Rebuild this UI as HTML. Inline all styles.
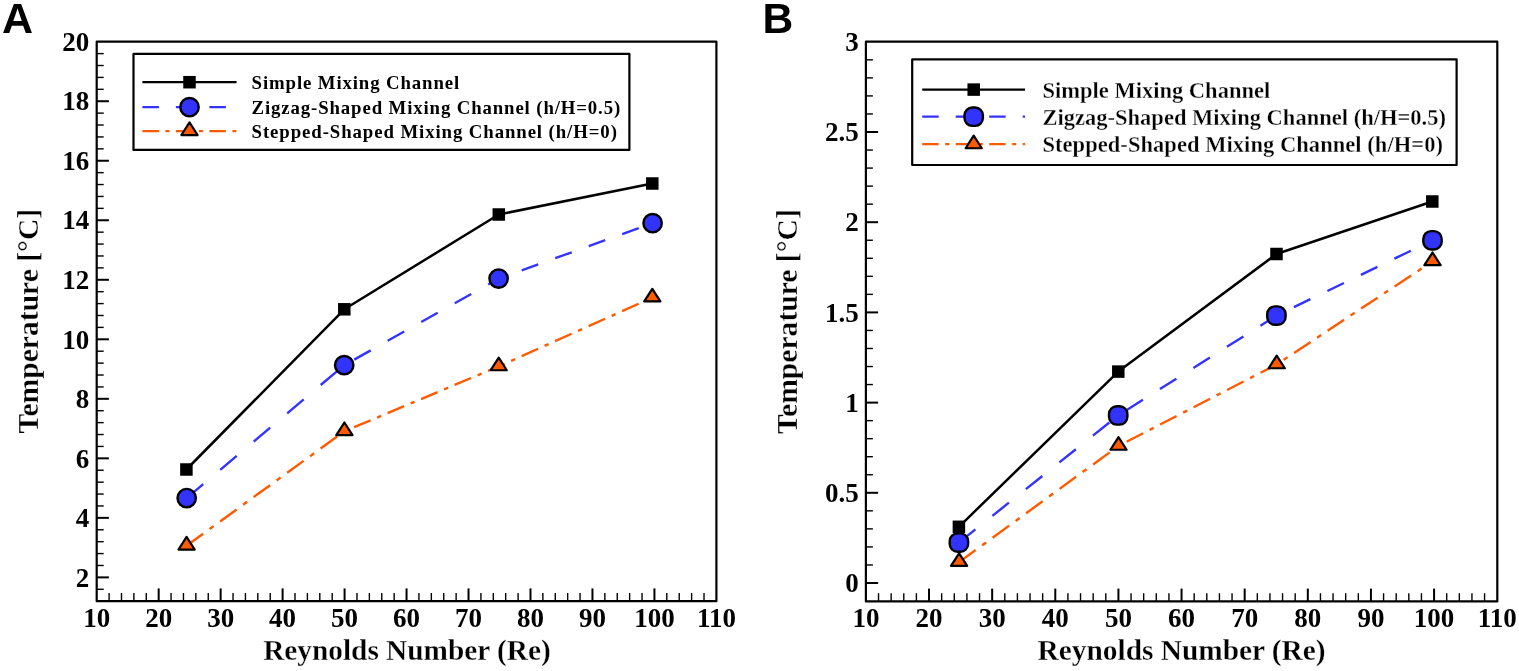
<!DOCTYPE html>
<html><head><meta charset="utf-8"><title>Temperature vs Reynolds Number</title>
<style>html,body{margin:0;padding:0;background:#fff;width:1519px;height:671px;overflow:hidden}svg{display:block}</style>
</head><body>
<svg width="1519" height="671" viewBox="0 0 1519 671">
<rect width="1519" height="671" fill="#fff"/>
<line x1="96.7" y1="589.28" x2="103.7" y2="589.28" stroke="#000" stroke-width="1.4"/>
<line x1="96.7" y1="577.38" x2="108.9" y2="577.38" stroke="#000" stroke-width="2"/>
<line x1="96.7" y1="565.48" x2="103.7" y2="565.48" stroke="#000" stroke-width="1.4"/>
<line x1="96.7" y1="553.57" x2="103.7" y2="553.57" stroke="#000" stroke-width="1.4"/>
<line x1="96.7" y1="541.67" x2="103.7" y2="541.67" stroke="#000" stroke-width="1.4"/>
<line x1="96.7" y1="529.76" x2="103.7" y2="529.76" stroke="#000" stroke-width="1.4"/>
<line x1="96.7" y1="517.86" x2="108.9" y2="517.86" stroke="#000" stroke-width="2"/>
<line x1="96.7" y1="505.96" x2="103.7" y2="505.96" stroke="#000" stroke-width="1.4"/>
<line x1="96.7" y1="494.05" x2="103.7" y2="494.05" stroke="#000" stroke-width="1.4"/>
<line x1="96.7" y1="482.15" x2="103.7" y2="482.15" stroke="#000" stroke-width="1.4"/>
<line x1="96.7" y1="470.24" x2="103.7" y2="470.24" stroke="#000" stroke-width="1.4"/>
<line x1="96.7" y1="458.34" x2="108.9" y2="458.34" stroke="#000" stroke-width="2"/>
<line x1="96.7" y1="446.44" x2="103.7" y2="446.44" stroke="#000" stroke-width="1.4"/>
<line x1="96.7" y1="434.53" x2="103.7" y2="434.53" stroke="#000" stroke-width="1.4"/>
<line x1="96.7" y1="422.63" x2="103.7" y2="422.63" stroke="#000" stroke-width="1.4"/>
<line x1="96.7" y1="410.72" x2="103.7" y2="410.72" stroke="#000" stroke-width="1.4"/>
<line x1="96.7" y1="398.82" x2="108.9" y2="398.82" stroke="#000" stroke-width="2"/>
<line x1="96.7" y1="386.92" x2="103.7" y2="386.92" stroke="#000" stroke-width="1.4"/>
<line x1="96.7" y1="375.01" x2="103.7" y2="375.01" stroke="#000" stroke-width="1.4"/>
<line x1="96.7" y1="363.11" x2="103.7" y2="363.11" stroke="#000" stroke-width="1.4"/>
<line x1="96.7" y1="351.2" x2="103.7" y2="351.2" stroke="#000" stroke-width="1.4"/>
<line x1="96.7" y1="339.3" x2="108.9" y2="339.3" stroke="#000" stroke-width="2"/>
<line x1="96.7" y1="327.4" x2="103.7" y2="327.4" stroke="#000" stroke-width="1.4"/>
<line x1="96.7" y1="315.49" x2="103.7" y2="315.49" stroke="#000" stroke-width="1.4"/>
<line x1="96.7" y1="303.59" x2="103.7" y2="303.59" stroke="#000" stroke-width="1.4"/>
<line x1="96.7" y1="291.68" x2="103.7" y2="291.68" stroke="#000" stroke-width="1.4"/>
<line x1="96.7" y1="279.78" x2="108.9" y2="279.78" stroke="#000" stroke-width="2"/>
<line x1="96.7" y1="267.88" x2="103.7" y2="267.88" stroke="#000" stroke-width="1.4"/>
<line x1="96.7" y1="255.97" x2="103.7" y2="255.97" stroke="#000" stroke-width="1.4"/>
<line x1="96.7" y1="244.07" x2="103.7" y2="244.07" stroke="#000" stroke-width="1.4"/>
<line x1="96.7" y1="232.16" x2="103.7" y2="232.16" stroke="#000" stroke-width="1.4"/>
<line x1="96.7" y1="220.26" x2="108.9" y2="220.26" stroke="#000" stroke-width="2"/>
<line x1="96.7" y1="208.36" x2="103.7" y2="208.36" stroke="#000" stroke-width="1.4"/>
<line x1="96.7" y1="196.45" x2="103.7" y2="196.45" stroke="#000" stroke-width="1.4"/>
<line x1="96.7" y1="184.55" x2="103.7" y2="184.55" stroke="#000" stroke-width="1.4"/>
<line x1="96.7" y1="172.64" x2="103.7" y2="172.64" stroke="#000" stroke-width="1.4"/>
<line x1="96.7" y1="160.74" x2="108.9" y2="160.74" stroke="#000" stroke-width="2"/>
<line x1="96.7" y1="148.84" x2="103.7" y2="148.84" stroke="#000" stroke-width="1.4"/>
<line x1="96.7" y1="136.93" x2="103.7" y2="136.93" stroke="#000" stroke-width="1.4"/>
<line x1="96.7" y1="125.03" x2="103.7" y2="125.03" stroke="#000" stroke-width="1.4"/>
<line x1="96.7" y1="113.12" x2="103.7" y2="113.12" stroke="#000" stroke-width="1.4"/>
<line x1="96.7" y1="101.22" x2="108.9" y2="101.22" stroke="#000" stroke-width="2"/>
<line x1="96.7" y1="89.32" x2="103.7" y2="89.32" stroke="#000" stroke-width="1.4"/>
<line x1="96.7" y1="77.41" x2="103.7" y2="77.41" stroke="#000" stroke-width="1.4"/>
<line x1="96.7" y1="65.51" x2="103.7" y2="65.51" stroke="#000" stroke-width="1.4"/>
<line x1="96.7" y1="53.6" x2="103.7" y2="53.6" stroke="#000" stroke-width="1.4"/>
<line x1="109.09" y1="601.2" x2="109.09" y2="593" stroke="#000" stroke-width="1.4"/>
<line x1="121.49" y1="601.2" x2="121.49" y2="593" stroke="#000" stroke-width="1.4"/>
<line x1="133.88" y1="601.2" x2="133.88" y2="593" stroke="#000" stroke-width="1.4"/>
<line x1="146.28" y1="601.2" x2="146.28" y2="593" stroke="#000" stroke-width="1.4"/>
<line x1="158.67" y1="601.2" x2="158.67" y2="588.4" stroke="#000" stroke-width="2"/>
<line x1="171.06" y1="601.2" x2="171.06" y2="593" stroke="#000" stroke-width="1.4"/>
<line x1="183.46" y1="601.2" x2="183.46" y2="593" stroke="#000" stroke-width="1.4"/>
<line x1="195.85" y1="601.2" x2="195.85" y2="593" stroke="#000" stroke-width="1.4"/>
<line x1="208.25" y1="601.2" x2="208.25" y2="593" stroke="#000" stroke-width="1.4"/>
<line x1="220.64" y1="601.2" x2="220.64" y2="588.4" stroke="#000" stroke-width="2"/>
<line x1="233.03" y1="601.2" x2="233.03" y2="593" stroke="#000" stroke-width="1.4"/>
<line x1="245.43" y1="601.2" x2="245.43" y2="593" stroke="#000" stroke-width="1.4"/>
<line x1="257.82" y1="601.2" x2="257.82" y2="593" stroke="#000" stroke-width="1.4"/>
<line x1="270.22" y1="601.2" x2="270.22" y2="593" stroke="#000" stroke-width="1.4"/>
<line x1="282.61" y1="601.2" x2="282.61" y2="588.4" stroke="#000" stroke-width="2"/>
<line x1="295" y1="601.2" x2="295" y2="593" stroke="#000" stroke-width="1.4"/>
<line x1="307.4" y1="601.2" x2="307.4" y2="593" stroke="#000" stroke-width="1.4"/>
<line x1="319.79" y1="601.2" x2="319.79" y2="593" stroke="#000" stroke-width="1.4"/>
<line x1="332.19" y1="601.2" x2="332.19" y2="593" stroke="#000" stroke-width="1.4"/>
<line x1="344.58" y1="601.2" x2="344.58" y2="588.4" stroke="#000" stroke-width="2"/>
<line x1="356.97" y1="601.2" x2="356.97" y2="593" stroke="#000" stroke-width="1.4"/>
<line x1="369.37" y1="601.2" x2="369.37" y2="593" stroke="#000" stroke-width="1.4"/>
<line x1="381.76" y1="601.2" x2="381.76" y2="593" stroke="#000" stroke-width="1.4"/>
<line x1="394.16" y1="601.2" x2="394.16" y2="593" stroke="#000" stroke-width="1.4"/>
<line x1="406.55" y1="601.2" x2="406.55" y2="588.4" stroke="#000" stroke-width="2"/>
<line x1="418.94" y1="601.2" x2="418.94" y2="593" stroke="#000" stroke-width="1.4"/>
<line x1="431.34" y1="601.2" x2="431.34" y2="593" stroke="#000" stroke-width="1.4"/>
<line x1="443.73" y1="601.2" x2="443.73" y2="593" stroke="#000" stroke-width="1.4"/>
<line x1="456.13" y1="601.2" x2="456.13" y2="593" stroke="#000" stroke-width="1.4"/>
<line x1="468.52" y1="601.2" x2="468.52" y2="588.4" stroke="#000" stroke-width="2"/>
<line x1="480.91" y1="601.2" x2="480.91" y2="593" stroke="#000" stroke-width="1.4"/>
<line x1="493.31" y1="601.2" x2="493.31" y2="593" stroke="#000" stroke-width="1.4"/>
<line x1="505.7" y1="601.2" x2="505.7" y2="593" stroke="#000" stroke-width="1.4"/>
<line x1="518.1" y1="601.2" x2="518.1" y2="593" stroke="#000" stroke-width="1.4"/>
<line x1="530.49" y1="601.2" x2="530.49" y2="588.4" stroke="#000" stroke-width="2"/>
<line x1="542.88" y1="601.2" x2="542.88" y2="593" stroke="#000" stroke-width="1.4"/>
<line x1="555.28" y1="601.2" x2="555.28" y2="593" stroke="#000" stroke-width="1.4"/>
<line x1="567.67" y1="601.2" x2="567.67" y2="593" stroke="#000" stroke-width="1.4"/>
<line x1="580.07" y1="601.2" x2="580.07" y2="593" stroke="#000" stroke-width="1.4"/>
<line x1="592.46" y1="601.2" x2="592.46" y2="588.4" stroke="#000" stroke-width="2"/>
<line x1="604.85" y1="601.2" x2="604.85" y2="593" stroke="#000" stroke-width="1.4"/>
<line x1="617.25" y1="601.2" x2="617.25" y2="593" stroke="#000" stroke-width="1.4"/>
<line x1="629.64" y1="601.2" x2="629.64" y2="593" stroke="#000" stroke-width="1.4"/>
<line x1="642.04" y1="601.2" x2="642.04" y2="593" stroke="#000" stroke-width="1.4"/>
<line x1="654.43" y1="601.2" x2="654.43" y2="588.4" stroke="#000" stroke-width="2"/>
<line x1="666.82" y1="601.2" x2="666.82" y2="593" stroke="#000" stroke-width="1.4"/>
<line x1="679.22" y1="601.2" x2="679.22" y2="593" stroke="#000" stroke-width="1.4"/>
<line x1="691.61" y1="601.2" x2="691.61" y2="593" stroke="#000" stroke-width="1.4"/>
<line x1="704.01" y1="601.2" x2="704.01" y2="593" stroke="#000" stroke-width="1.4"/>
<rect x="96.7" y="41.7" width="619.7" height="559.5" fill="none" stroke="#000" stroke-width="2.2" stroke-linejoin="round"/>
<text x="89.2" y="586.58" text-anchor="end" font-family="'Liberation Serif', 'Times New Roman', serif" font-weight="bold" font-size="27">2</text>
<text x="89.2" y="527.06" text-anchor="end" font-family="'Liberation Serif', 'Times New Roman', serif" font-weight="bold" font-size="27">4</text>
<text x="89.2" y="467.54" text-anchor="end" font-family="'Liberation Serif', 'Times New Roman', serif" font-weight="bold" font-size="27">6</text>
<text x="89.2" y="408.02" text-anchor="end" font-family="'Liberation Serif', 'Times New Roman', serif" font-weight="bold" font-size="27">8</text>
<text x="89.2" y="348.5" text-anchor="end" font-family="'Liberation Serif', 'Times New Roman', serif" font-weight="bold" font-size="27">10</text>
<text x="89.2" y="288.98" text-anchor="end" font-family="'Liberation Serif', 'Times New Roman', serif" font-weight="bold" font-size="27">12</text>
<text x="89.2" y="229.46" text-anchor="end" font-family="'Liberation Serif', 'Times New Roman', serif" font-weight="bold" font-size="27">14</text>
<text x="89.2" y="169.94" text-anchor="end" font-family="'Liberation Serif', 'Times New Roman', serif" font-weight="bold" font-size="27">16</text>
<text x="89.2" y="110.42" text-anchor="end" font-family="'Liberation Serif', 'Times New Roman', serif" font-weight="bold" font-size="27">18</text>
<text x="89.2" y="50.9" text-anchor="end" font-family="'Liberation Serif', 'Times New Roman', serif" font-weight="bold" font-size="27">20</text>
<text x="96.7" y="626.6" text-anchor="middle" font-family="'Liberation Serif', 'Times New Roman', serif" font-weight="bold" font-size="27">10</text>
<text x="158.67" y="626.6" text-anchor="middle" font-family="'Liberation Serif', 'Times New Roman', serif" font-weight="bold" font-size="27">20</text>
<text x="220.64" y="626.6" text-anchor="middle" font-family="'Liberation Serif', 'Times New Roman', serif" font-weight="bold" font-size="27">30</text>
<text x="282.61" y="626.6" text-anchor="middle" font-family="'Liberation Serif', 'Times New Roman', serif" font-weight="bold" font-size="27">40</text>
<text x="344.58" y="626.6" text-anchor="middle" font-family="'Liberation Serif', 'Times New Roman', serif" font-weight="bold" font-size="27">50</text>
<text x="406.55" y="626.6" text-anchor="middle" font-family="'Liberation Serif', 'Times New Roman', serif" font-weight="bold" font-size="27">60</text>
<text x="468.52" y="626.6" text-anchor="middle" font-family="'Liberation Serif', 'Times New Roman', serif" font-weight="bold" font-size="27">70</text>
<text x="530.49" y="626.6" text-anchor="middle" font-family="'Liberation Serif', 'Times New Roman', serif" font-weight="bold" font-size="27">80</text>
<text x="592.46" y="626.6" text-anchor="middle" font-family="'Liberation Serif', 'Times New Roman', serif" font-weight="bold" font-size="27">90</text>
<text x="654.43" y="626.6" text-anchor="middle" font-family="'Liberation Serif', 'Times New Roman', serif" font-weight="bold" font-size="27">100</text>
<text x="716.4" y="626.6" text-anchor="middle" font-family="'Liberation Serif', 'Times New Roman', serif" font-weight="bold" font-size="27">110</text>
<text x="263.2" y="660.2" font-family="'Liberation Serif', 'Times New Roman', serif" font-weight="bold" font-size="29.5" textLength="287.6" lengthAdjust="spacingAndGlyphs" stroke="#fff" stroke-width="0.3">Reynolds Number (Re)</text>
<text transform="translate(37.6,433.6) rotate(-90)" x="0" y="0" font-family="'Liberation Serif', 'Times New Roman', serif" font-weight="bold" font-size="30" textLength="224.8" lengthAdjust="spacingAndGlyphs" stroke="#fff" stroke-width="0.3">Temperature [°C]</text>
<text x="1.9" y="32.8" font-family="'Liberation Sans', Arial, sans-serif" font-weight="bold" font-size="43">A</text>
<polyline points="186.4,469.5 344.3,309.3 498.8,214.5 652.3,183.5" fill="none" stroke="#000" stroke-width="2.5" stroke-linejoin="round"/>
<line x1="186.7" y1="498.1" x2="344.2" y2="365.2" stroke="#3333ff" stroke-width="2.4" stroke-dasharray="21.59 22.24" stroke-dashoffset="0"/>
<line x1="344.2" y1="365.2" x2="498.6" y2="278.6" stroke="#3333ff" stroke-width="2.4" stroke-dasharray="18.92 19.49" stroke-dashoffset="26.94"/>
<line x1="498.6" y1="278.6" x2="652.6" y2="223.2" stroke="#3333ff" stroke-width="2.4" stroke-dasharray="17.54 18.07" stroke-dashoffset="11.05"/>
<line x1="186.6" y1="545.7" x2="344.4" y2="431.3" stroke="#ff5a00" stroke-width="2.4" stroke-dasharray="20.38 8.03 4.94 8.03" stroke-dashoffset="0"/>
<line x1="344.4" y1="431.3" x2="498.7" y2="366.4" stroke="#ff5a00" stroke-width="2.4" stroke-dasharray="17.9 7.05 4.34 7.05" stroke-dashoffset="25.82"/>
<line x1="498.7" y1="366.4" x2="652.3" y2="297.6" stroke="#ff5a00" stroke-width="2.4" stroke-dasharray="18.08 7.12 4.38 7.12" stroke-dashoffset="11.61"/>
<rect x="180.15" y="463.25" width="12.5" height="12.5" fill="#000"/>
<rect x="338.05" y="303.05" width="12.5" height="12.5" fill="#000"/>
<rect x="492.55" y="208.25" width="12.5" height="12.5" fill="#000"/>
<rect x="646.05" y="177.25" width="12.5" height="12.5" fill="#000"/>
<circle cx="186.7" cy="498.1" r="9.2" fill="#3333ff" stroke="#000" stroke-width="2.4"/>
<circle cx="344.2" cy="365.2" r="9.2" fill="#3333ff" stroke="#000" stroke-width="2.4"/>
<circle cx="498.6" cy="278.6" r="9.2" fill="#3333ff" stroke="#000" stroke-width="2.4"/>
<circle cx="652.6" cy="223.2" r="9.2" fill="#3333ff" stroke="#000" stroke-width="2.4"/>
<polygon points="186.6,536.93 194.7,549.53 178.5,549.53" fill="#ff5a00" stroke="#000" stroke-width="2.2" stroke-linejoin="round"/>
<polygon points="344.4,422.53 352.5,435.13 336.3,435.13" fill="#ff5a00" stroke="#000" stroke-width="2.2" stroke-linejoin="round"/>
<polygon points="498.7,357.63 506.8,370.23 490.6,370.23" fill="#ff5a00" stroke="#000" stroke-width="2.2" stroke-linejoin="round"/>
<polygon points="652.3,288.83 660.4,301.43 644.2,301.43" fill="#ff5a00" stroke="#000" stroke-width="2.2" stroke-linejoin="round"/>
<rect x="133.5" y="53.9" width="495.9" height="96" fill="#fff" stroke="#000" stroke-width="2.2" stroke-linejoin="round"/>
<line x1="142.4" y1="82.2" x2="236.6" y2="82.2" stroke="#000" stroke-width="2.2"/>
<rect x="183.25" y="75.95" width="12.5" height="12.5" fill="#000"/>
<line x1="142.4" y1="107.2" x2="236.6" y2="107.2" stroke="#3333ff" stroke-width="2.2" stroke-dasharray="16.5 17.0"/>
<circle cx="189.5" cy="107.2" r="9.2" fill="#3333ff" stroke="#000" stroke-width="2.4"/>
<line x1="142.4" y1="131.2" x2="236.6" y2="131.2" stroke="#ff5a00" stroke-width="2.2" stroke-dasharray="16.5 6.5 4.0 6.5"/>
<polygon points="189.5,122.43 197.6,135.03 181.4,135.03" fill="#ff5a00" stroke="#000" stroke-width="2.2" stroke-linejoin="round"/>
<text x="251.6" y="88.6" font-family="'Liberation Serif', 'Times New Roman', serif" font-weight="bold" font-size="18.8" textLength="207.6" lengthAdjust="spacing">Simple Mixing Channel</text>
<text x="251.6" y="113.6" font-family="'Liberation Serif', 'Times New Roman', serif" font-weight="bold" font-size="18.8" textLength="368.6" lengthAdjust="spacing">Zigzag-Shaped Mixing Channel (h/H=0.5)</text>
<text x="251.6" y="138.3" font-family="'Liberation Serif', 'Times New Roman', serif" font-weight="bold" font-size="18.8" textLength="365.3" lengthAdjust="spacing">Stepped-Shaped Mixing Channel (h/H=0)</text>
<line x1="865.9" y1="583" x2="878.1" y2="583" stroke="#000" stroke-width="2"/>
<line x1="865.9" y1="564.96" x2="872.9" y2="564.96" stroke="#000" stroke-width="1.4"/>
<line x1="865.9" y1="546.92" x2="872.9" y2="546.92" stroke="#000" stroke-width="1.4"/>
<line x1="865.9" y1="528.88" x2="872.9" y2="528.88" stroke="#000" stroke-width="1.4"/>
<line x1="865.9" y1="510.84" x2="872.9" y2="510.84" stroke="#000" stroke-width="1.4"/>
<line x1="865.9" y1="492.8" x2="878.1" y2="492.8" stroke="#000" stroke-width="2"/>
<line x1="865.9" y1="474.76" x2="872.9" y2="474.76" stroke="#000" stroke-width="1.4"/>
<line x1="865.9" y1="456.72" x2="872.9" y2="456.72" stroke="#000" stroke-width="1.4"/>
<line x1="865.9" y1="438.68" x2="872.9" y2="438.68" stroke="#000" stroke-width="1.4"/>
<line x1="865.9" y1="420.64" x2="872.9" y2="420.64" stroke="#000" stroke-width="1.4"/>
<line x1="865.9" y1="402.6" x2="878.1" y2="402.6" stroke="#000" stroke-width="2"/>
<line x1="865.9" y1="384.56" x2="872.9" y2="384.56" stroke="#000" stroke-width="1.4"/>
<line x1="865.9" y1="366.52" x2="872.9" y2="366.52" stroke="#000" stroke-width="1.4"/>
<line x1="865.9" y1="348.48" x2="872.9" y2="348.48" stroke="#000" stroke-width="1.4"/>
<line x1="865.9" y1="330.44" x2="872.9" y2="330.44" stroke="#000" stroke-width="1.4"/>
<line x1="865.9" y1="312.4" x2="878.1" y2="312.4" stroke="#000" stroke-width="2"/>
<line x1="865.9" y1="294.36" x2="872.9" y2="294.36" stroke="#000" stroke-width="1.4"/>
<line x1="865.9" y1="276.32" x2="872.9" y2="276.32" stroke="#000" stroke-width="1.4"/>
<line x1="865.9" y1="258.28" x2="872.9" y2="258.28" stroke="#000" stroke-width="1.4"/>
<line x1="865.9" y1="240.24" x2="872.9" y2="240.24" stroke="#000" stroke-width="1.4"/>
<line x1="865.9" y1="222.2" x2="878.1" y2="222.2" stroke="#000" stroke-width="2"/>
<line x1="865.9" y1="204.16" x2="872.9" y2="204.16" stroke="#000" stroke-width="1.4"/>
<line x1="865.9" y1="186.12" x2="872.9" y2="186.12" stroke="#000" stroke-width="1.4"/>
<line x1="865.9" y1="168.08" x2="872.9" y2="168.08" stroke="#000" stroke-width="1.4"/>
<line x1="865.9" y1="150.04" x2="872.9" y2="150.04" stroke="#000" stroke-width="1.4"/>
<line x1="865.9" y1="132" x2="878.1" y2="132" stroke="#000" stroke-width="2"/>
<line x1="865.9" y1="113.96" x2="872.9" y2="113.96" stroke="#000" stroke-width="1.4"/>
<line x1="865.9" y1="95.92" x2="872.9" y2="95.92" stroke="#000" stroke-width="1.4"/>
<line x1="865.9" y1="77.88" x2="872.9" y2="77.88" stroke="#000" stroke-width="1.4"/>
<line x1="865.9" y1="59.84" x2="872.9" y2="59.84" stroke="#000" stroke-width="1.4"/>
<line x1="878.53" y1="601.4" x2="878.53" y2="593.2" stroke="#000" stroke-width="1.4"/>
<line x1="891.15" y1="601.4" x2="891.15" y2="593.2" stroke="#000" stroke-width="1.4"/>
<line x1="903.78" y1="601.4" x2="903.78" y2="593.2" stroke="#000" stroke-width="1.4"/>
<line x1="916.4" y1="601.4" x2="916.4" y2="593.2" stroke="#000" stroke-width="1.4"/>
<line x1="929.03" y1="601.4" x2="929.03" y2="588.6" stroke="#000" stroke-width="2"/>
<line x1="941.66" y1="601.4" x2="941.66" y2="593.2" stroke="#000" stroke-width="1.4"/>
<line x1="954.28" y1="601.4" x2="954.28" y2="593.2" stroke="#000" stroke-width="1.4"/>
<line x1="966.91" y1="601.4" x2="966.91" y2="593.2" stroke="#000" stroke-width="1.4"/>
<line x1="979.53" y1="601.4" x2="979.53" y2="593.2" stroke="#000" stroke-width="1.4"/>
<line x1="992.16" y1="601.4" x2="992.16" y2="588.6" stroke="#000" stroke-width="2"/>
<line x1="1004.79" y1="601.4" x2="1004.79" y2="593.2" stroke="#000" stroke-width="1.4"/>
<line x1="1017.41" y1="601.4" x2="1017.41" y2="593.2" stroke="#000" stroke-width="1.4"/>
<line x1="1030.04" y1="601.4" x2="1030.04" y2="593.2" stroke="#000" stroke-width="1.4"/>
<line x1="1042.66" y1="601.4" x2="1042.66" y2="593.2" stroke="#000" stroke-width="1.4"/>
<line x1="1055.29" y1="601.4" x2="1055.29" y2="588.6" stroke="#000" stroke-width="2"/>
<line x1="1067.92" y1="601.4" x2="1067.92" y2="593.2" stroke="#000" stroke-width="1.4"/>
<line x1="1080.54" y1="601.4" x2="1080.54" y2="593.2" stroke="#000" stroke-width="1.4"/>
<line x1="1093.17" y1="601.4" x2="1093.17" y2="593.2" stroke="#000" stroke-width="1.4"/>
<line x1="1105.79" y1="601.4" x2="1105.79" y2="593.2" stroke="#000" stroke-width="1.4"/>
<line x1="1118.42" y1="601.4" x2="1118.42" y2="588.6" stroke="#000" stroke-width="2"/>
<line x1="1131.05" y1="601.4" x2="1131.05" y2="593.2" stroke="#000" stroke-width="1.4"/>
<line x1="1143.67" y1="601.4" x2="1143.67" y2="593.2" stroke="#000" stroke-width="1.4"/>
<line x1="1156.3" y1="601.4" x2="1156.3" y2="593.2" stroke="#000" stroke-width="1.4"/>
<line x1="1168.92" y1="601.4" x2="1168.92" y2="593.2" stroke="#000" stroke-width="1.4"/>
<line x1="1181.55" y1="601.4" x2="1181.55" y2="588.6" stroke="#000" stroke-width="2"/>
<line x1="1194.18" y1="601.4" x2="1194.18" y2="593.2" stroke="#000" stroke-width="1.4"/>
<line x1="1206.8" y1="601.4" x2="1206.8" y2="593.2" stroke="#000" stroke-width="1.4"/>
<line x1="1219.43" y1="601.4" x2="1219.43" y2="593.2" stroke="#000" stroke-width="1.4"/>
<line x1="1232.05" y1="601.4" x2="1232.05" y2="593.2" stroke="#000" stroke-width="1.4"/>
<line x1="1244.68" y1="601.4" x2="1244.68" y2="588.6" stroke="#000" stroke-width="2"/>
<line x1="1257.31" y1="601.4" x2="1257.31" y2="593.2" stroke="#000" stroke-width="1.4"/>
<line x1="1269.93" y1="601.4" x2="1269.93" y2="593.2" stroke="#000" stroke-width="1.4"/>
<line x1="1282.56" y1="601.4" x2="1282.56" y2="593.2" stroke="#000" stroke-width="1.4"/>
<line x1="1295.18" y1="601.4" x2="1295.18" y2="593.2" stroke="#000" stroke-width="1.4"/>
<line x1="1307.81" y1="601.4" x2="1307.81" y2="588.6" stroke="#000" stroke-width="2"/>
<line x1="1320.44" y1="601.4" x2="1320.44" y2="593.2" stroke="#000" stroke-width="1.4"/>
<line x1="1333.06" y1="601.4" x2="1333.06" y2="593.2" stroke="#000" stroke-width="1.4"/>
<line x1="1345.69" y1="601.4" x2="1345.69" y2="593.2" stroke="#000" stroke-width="1.4"/>
<line x1="1358.31" y1="601.4" x2="1358.31" y2="593.2" stroke="#000" stroke-width="1.4"/>
<line x1="1370.94" y1="601.4" x2="1370.94" y2="588.6" stroke="#000" stroke-width="2"/>
<line x1="1383.57" y1="601.4" x2="1383.57" y2="593.2" stroke="#000" stroke-width="1.4"/>
<line x1="1396.19" y1="601.4" x2="1396.19" y2="593.2" stroke="#000" stroke-width="1.4"/>
<line x1="1408.82" y1="601.4" x2="1408.82" y2="593.2" stroke="#000" stroke-width="1.4"/>
<line x1="1421.44" y1="601.4" x2="1421.44" y2="593.2" stroke="#000" stroke-width="1.4"/>
<line x1="1434.07" y1="601.4" x2="1434.07" y2="588.6" stroke="#000" stroke-width="2"/>
<line x1="1446.7" y1="601.4" x2="1446.7" y2="593.2" stroke="#000" stroke-width="1.4"/>
<line x1="1459.32" y1="601.4" x2="1459.32" y2="593.2" stroke="#000" stroke-width="1.4"/>
<line x1="1471.95" y1="601.4" x2="1471.95" y2="593.2" stroke="#000" stroke-width="1.4"/>
<line x1="1484.57" y1="601.4" x2="1484.57" y2="593.2" stroke="#000" stroke-width="1.4"/>
<rect x="865.9" y="41.7" width="631.4" height="559.7" fill="none" stroke="#000" stroke-width="2.2" stroke-linejoin="round"/>
<text x="858.8" y="592.2" text-anchor="end" font-family="'Liberation Serif', 'Times New Roman', serif" font-weight="bold" font-size="27">0</text>
<text x="858.8" y="502" text-anchor="end" font-family="'Liberation Serif', 'Times New Roman', serif" font-weight="bold" font-size="27">0.5</text>
<text x="858.8" y="411.8" text-anchor="end" font-family="'Liberation Serif', 'Times New Roman', serif" font-weight="bold" font-size="27">1</text>
<text x="858.8" y="321.6" text-anchor="end" font-family="'Liberation Serif', 'Times New Roman', serif" font-weight="bold" font-size="27">1.5</text>
<text x="858.8" y="231.4" text-anchor="end" font-family="'Liberation Serif', 'Times New Roman', serif" font-weight="bold" font-size="27">2</text>
<text x="858.8" y="141.2" text-anchor="end" font-family="'Liberation Serif', 'Times New Roman', serif" font-weight="bold" font-size="27">2.5</text>
<text x="858.8" y="51" text-anchor="end" font-family="'Liberation Serif', 'Times New Roman', serif" font-weight="bold" font-size="27">3</text>
<text x="865.9" y="626.6" text-anchor="middle" font-family="'Liberation Serif', 'Times New Roman', serif" font-weight="bold" font-size="27">10</text>
<text x="929.03" y="626.6" text-anchor="middle" font-family="'Liberation Serif', 'Times New Roman', serif" font-weight="bold" font-size="27">20</text>
<text x="992.16" y="626.6" text-anchor="middle" font-family="'Liberation Serif', 'Times New Roman', serif" font-weight="bold" font-size="27">30</text>
<text x="1055.29" y="626.6" text-anchor="middle" font-family="'Liberation Serif', 'Times New Roman', serif" font-weight="bold" font-size="27">40</text>
<text x="1118.42" y="626.6" text-anchor="middle" font-family="'Liberation Serif', 'Times New Roman', serif" font-weight="bold" font-size="27">50</text>
<text x="1181.55" y="626.6" text-anchor="middle" font-family="'Liberation Serif', 'Times New Roman', serif" font-weight="bold" font-size="27">60</text>
<text x="1244.68" y="626.6" text-anchor="middle" font-family="'Liberation Serif', 'Times New Roman', serif" font-weight="bold" font-size="27">70</text>
<text x="1307.81" y="626.6" text-anchor="middle" font-family="'Liberation Serif', 'Times New Roman', serif" font-weight="bold" font-size="27">80</text>
<text x="1370.94" y="626.6" text-anchor="middle" font-family="'Liberation Serif', 'Times New Roman', serif" font-weight="bold" font-size="27">90</text>
<text x="1434.07" y="626.6" text-anchor="middle" font-family="'Liberation Serif', 'Times New Roman', serif" font-weight="bold" font-size="27">100</text>
<text x="1497.2" y="626.6" text-anchor="middle" font-family="'Liberation Serif', 'Times New Roman', serif" font-weight="bold" font-size="27">110</text>
<text x="1037.6" y="660.4" font-family="'Liberation Serif', 'Times New Roman', serif" font-weight="bold" font-size="29.5" textLength="288" lengthAdjust="spacingAndGlyphs" stroke="#fff" stroke-width="0.3">Reynolds Number (Re)</text>
<text transform="translate(797.3,434) rotate(-90)" x="0" y="0" font-family="'Liberation Serif', 'Times New Roman', serif" font-weight="bold" font-size="30" textLength="224.8" lengthAdjust="spacingAndGlyphs" stroke="#fff" stroke-width="0.3">Temperature [°C]</text>
<text x="762.4" y="32.8" font-family="'Liberation Sans', Arial, sans-serif" font-weight="bold" font-size="42.5">B</text>
<polyline points="958.9,526.8 1118.3,371.6 1276.5,254 1432.3,201.5" fill="none" stroke="#000" stroke-width="2.5" stroke-linejoin="round"/>
<line x1="958.9" y1="542.6" x2="1118.2" y2="415.4" stroke="#3333ff" stroke-width="2.4" stroke-dasharray="21.11 21.75" stroke-dashoffset="0"/>
<line x1="1118.2" y1="415.4" x2="1276.4" y2="315.6" stroke="#3333ff" stroke-width="2.4" stroke-dasharray="19.51 20.1" stroke-dashoffset="29.91"/>
<line x1="1276.4" y1="315.6" x2="1432.5" y2="240.3" stroke="#3333ff" stroke-width="2.4" stroke-dasharray="18.32 18.87" stroke-dashoffset="17.76"/>
<line x1="959.1" y1="562.1" x2="1118.5" y2="445.9" stroke="#ff5a00" stroke-width="2.4" stroke-dasharray="20.42 8.04 4.95 8.04" stroke-dashoffset="0"/>
<line x1="1118.5" y1="445.9" x2="1276.7" y2="364.4" stroke="#ff5a00" stroke-width="2.4" stroke-dasharray="18.56 7.31 4.5 7.31" stroke-dashoffset="28.57"/>
<line x1="1276.7" y1="364.4" x2="1432.5" y2="261.3" stroke="#ff5a00" stroke-width="2.4" stroke-dasharray="19.79 7.79 4.8 7.79" stroke-dashoffset="19.31"/>
<rect x="952.65" y="520.55" width="12.5" height="12.5" fill="#000"/>
<rect x="1112.05" y="365.35" width="12.5" height="12.5" fill="#000"/>
<rect x="1270.25" y="247.75" width="12.5" height="12.5" fill="#000"/>
<rect x="1426.05" y="195.25" width="12.5" height="12.5" fill="#000"/>
<rect x="949.7" y="533.4" width="18.4" height="18.4" rx="7.82" fill="#3333ff" stroke="#000" stroke-width="2.4"/>
<rect x="1109" y="406.2" width="18.4" height="18.4" rx="7.82" fill="#3333ff" stroke="#000" stroke-width="2.4"/>
<rect x="1267.2" y="306.4" width="18.4" height="18.4" rx="7.82" fill="#3333ff" stroke="#000" stroke-width="2.4"/>
<rect x="1423.3" y="231.1" width="18.4" height="18.4" rx="7.82" fill="#3333ff" stroke="#000" stroke-width="2.4"/>
<polygon points="959.1,553.33 967.2,565.93 951,565.93" fill="#ff5a00" stroke="#000" stroke-width="2.2" stroke-linejoin="round"/>
<polygon points="1118.5,437.13 1126.6,449.73 1110.4,449.73" fill="#ff5a00" stroke="#000" stroke-width="2.2" stroke-linejoin="round"/>
<polygon points="1276.7,355.63 1284.8,368.23 1268.6,368.23" fill="#ff5a00" stroke="#000" stroke-width="2.2" stroke-linejoin="round"/>
<polygon points="1432.5,252.53 1440.6,265.13 1424.4,265.13" fill="#ff5a00" stroke="#000" stroke-width="2.2" stroke-linejoin="round"/>
<rect x="912.2" y="59.4" width="544.4" height="105.6" fill="#fff" stroke="#000" stroke-width="2.2" stroke-linejoin="round"/>
<line x1="922.2" y1="89.6" x2="1025" y2="89.6" stroke="#000" stroke-width="2.2"/>
<rect x="967.45" y="83.35" width="12.5" height="12.5" fill="#000"/>
<line x1="922.2" y1="116.7" x2="1025" y2="116.7" stroke="#3333ff" stroke-width="2.2" stroke-dasharray="16.5 17.0"/>
<rect x="964.5" y="107.5" width="18.4" height="18.4" rx="7.82" fill="#3333ff" stroke="#000" stroke-width="2.4"/>
<line x1="922.2" y1="144.2" x2="1025" y2="144.2" stroke="#ff5a00" stroke-width="2.2" stroke-dasharray="16.5 6.5 4.0 6.5"/>
<polygon points="973.7,135.63 981.8,148.23 965.6,148.23" fill="#ff5a00" stroke="#000" stroke-width="2.2" stroke-linejoin="round"/>
<text x="1042.4" y="97.8" font-family="'Liberation Serif', 'Times New Roman', serif" font-weight="bold" font-size="22.5" textLength="227.8" lengthAdjust="spacing" stroke="#fff" stroke-width="0.3">Simple Mixing Channel</text>
<text x="1042.4" y="125" font-family="'Liberation Serif', 'Times New Roman', serif" font-weight="bold" font-size="22.5" textLength="403.6" lengthAdjust="spacing" stroke="#fff" stroke-width="0.3">Zigzag-Shaped Mixing Channel (h/H=0.5)</text>
<text x="1042.4" y="152.2" font-family="'Liberation Serif', 'Times New Roman', serif" font-weight="bold" font-size="22.5" textLength="400.6" lengthAdjust="spacing" stroke="#fff" stroke-width="0.3">Stepped-Shaped Mixing Channel (h/H=0)</text>
</svg>
</body></html>
